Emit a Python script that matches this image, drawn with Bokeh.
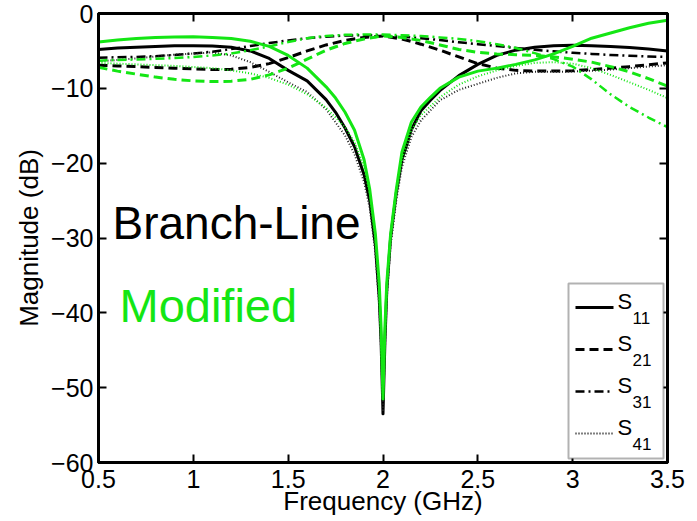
from bokeh.plotting import figure
from bokeh.models import (Range1d, LinearAxis, FixedTicker, CustomJSTickFormatter,
                          Label, BoxAnnotation)
from bokeh.embed import file_html
from bokeh.resources import INLINE

# ---------------- data ----------------
x_ticks = [0.5, 1.0, 1.5, 2.0, 2.5, 3.0, 3.5]
x_tick_labels = ["0.5", "1", "1.5", "2", "2.5", "3", "3.5"]
y_ticks = [-60, -50, -40, -30, -20, -10, 0]
y_tick_labels = ["\u221260", "\u221250", "\u221240", "\u221230", "\u221220", "\u221210", "0"]

# Branch-Line coupler (black)
bl_s11_f = [0.5, 0.6, 0.7, 0.8, 0.9, 1.0, 1.1, 1.2, 1.3, 1.4, 1.5, 1.6, 1.7, 1.75, 1.8, 1.85,
            1.9, 1.93, 1.96, 1.98, 1.99, 2.0, 2.01, 2.02, 2.04, 2.07, 2.1, 2.15, 2.2, 2.25,
            2.3, 2.4, 2.5, 2.6, 2.7, 2.8, 2.9, 3.0, 3.1, 3.2, 3.3, 3.4, 3.5]
bl_s11_db = [-4.8, -4.6, -4.5, -4.4, -4.3, -4.3, -4.35, -4.5, -5.0, -6.0, -7.6, -9.0, -11.5, -13.2,
             -15.3, -17.8, -21.5, -25.0, -31.0, -38.0, -44.0, -53.5, -44.0, -37.0, -30.0, -24.0,
             -19.5, -15.5, -13.0, -11.6, -10.3, -8.3, -6.8, -5.6, -4.9, -4.5, -4.3, -4.25, -4.3,
             -4.4, -4.55, -4.75, -5.0]

bl_s21_f = [0.5, 0.6, 0.7, 0.8, 0.9, 1.0, 1.1, 1.2, 1.3, 1.4, 1.5, 1.6, 1.7, 1.8, 1.9, 2.0,
            2.1, 2.2, 2.3, 2.4, 2.5, 2.6, 2.7, 2.8, 2.9, 3.0, 3.1, 3.2, 3.3, 3.4, 3.5]
bl_s21_db = [-6.9, -7.0, -7.1, -7.2, -7.3, -7.4, -7.5, -7.45, -7.2, -6.7, -5.9, -5.0, -4.2, -3.6,
             -3.2, -3.0, -3.4, -4.1, -4.9, -5.8, -6.7, -7.3, -7.6, -7.7, -7.7, -7.65, -7.5, -7.3,
             -7.1, -6.85, -6.6]

bl_s31_f = [0.5, 0.6, 0.7, 0.8, 0.9, 1.0, 1.1, 1.2, 1.3, 1.4, 1.5, 1.6, 1.7, 1.8, 1.9, 2.0,
            2.1, 2.2, 2.3, 2.4, 2.5, 2.6, 2.7, 2.8, 2.9, 3.0, 3.1, 3.2, 3.3, 3.4, 3.5]
bl_s31_db = [-5.9, -5.85, -5.8, -5.7, -5.55, -5.35, -5.1, -4.75, -4.35, -3.95, -3.6, -3.3, -3.1,
             -2.95, -2.9, -2.95, -3.1, -3.3, -3.55, -3.85, -4.1, -4.35, -4.6, -4.85, -5.05, -5.25,
             -5.4, -5.55, -5.65, -5.75, -5.8]

bl_s41_f = [0.5, 0.7, 0.9, 1.1, 1.2, 1.3, 1.4, 1.5, 1.6, 1.7, 1.8, 1.85, 1.9, 1.93, 1.96, 1.98,
            1.99, 2.0, 2.01, 2.02, 2.04, 2.07, 2.1, 2.15, 2.2, 2.3, 2.4, 2.5, 2.6, 2.7, 2.8, 2.9,
            3.0, 3.1, 3.2, 3.3, 3.4, 3.5]
bl_s41_db = [-6.4, -6.0, -5.5, -5.2, -5.6, -6.5, -7.8, -9.2, -10.5, -12.8, -16.3, -18.8, -22.5,
             -26.0, -32.0, -39.0, -45.0, -53.0, -45.0, -38.0, -31.0, -25.0, -20.5, -16.5, -14.3,
             -11.6, -10.2, -9.4, -8.6, -8.0, -7.8, -7.8, -7.75, -7.65, -7.5, -7.3, -7.1, -6.9]

# Modified coupler (green)
md_s11_f = [0.5, 0.6, 0.7, 0.8, 0.9, 1.0, 1.1, 1.2, 1.3, 1.4, 1.5, 1.6, 1.7, 1.75, 1.8, 1.85,
            1.9, 1.93, 1.96, 1.98, 1.99, 2.0, 2.01, 2.02, 2.04, 2.07, 2.1, 2.15, 2.2, 2.25,
            2.3, 2.4, 2.5, 2.6, 2.7, 2.8, 2.9, 3.0, 3.1, 3.2, 3.3, 3.4, 3.5]
md_s11_db = [-3.8, -3.55, -3.35, -3.2, -3.15, -3.1, -3.2, -3.35, -3.7, -4.4, -5.6, -7.3, -9.8,
             -11.3, -13.2, -15.6, -19.5, -23.5, -29.5, -36.0, -42.0, -51.5, -42.0, -36.0, -29.5,
             -23.5, -18.5, -14.5, -12.5, -11.2, -10.0, -8.5, -7.7, -7.3, -6.8, -6.2, -5.4, -4.4,
             -3.3, -2.6, -1.9, -1.3, -0.9]

md_s21_f = [0.5, 0.6, 0.7, 0.8, 0.9, 1.0, 1.1, 1.2, 1.3, 1.4, 1.5, 1.6, 1.7, 1.8, 1.9, 2.0,
            2.1, 2.2, 2.3, 2.4, 2.5, 2.6, 2.7, 2.8, 2.9, 3.0, 3.1, 3.2, 3.3, 3.4, 3.5]
md_s21_db = [-7.2, -7.7, -8.1, -8.5, -8.8, -9.0, -9.1, -9.05, -8.8, -8.2, -7.3, -6.1, -4.9, -4.0,
             -3.4, -3.0, -3.2, -3.6, -4.2, -4.8, -5.2, -5.4, -5.5, -5.6, -5.8, -6.1, -6.5, -7.1,
             -7.8, -8.7, -9.7]

md_s31_f = [0.5, 0.6, 0.7, 0.8, 0.9, 1.0, 1.1, 1.2, 1.3, 1.4, 1.5, 1.6, 1.7, 1.8, 1.9, 2.0,
            2.1, 2.2, 2.3, 2.4, 2.5, 2.6, 2.7, 2.8, 2.9, 3.0, 3.1, 3.2, 3.3, 3.4, 3.5]
md_s31_db = [-6.3, -6.2, -6.15, -6.05, -5.95, -5.8, -5.6, -5.35, -4.9, -4.4, -3.8, -3.3, -3.0,
             -2.85, -2.8, -2.8, -2.9, -3.0, -3.2, -3.4, -3.7, -4.1, -4.6, -5.3, -6.1, -7.1, -8.8,
             -10.8, -12.5, -13.9, -15.2]

md_s41_f = [0.5, 0.7, 0.9, 1.1, 1.2, 1.3, 1.4, 1.5, 1.6, 1.7, 1.8, 1.85, 1.9, 1.93, 1.96, 1.98,
            1.99, 2.0, 2.01, 2.02, 2.04, 2.07, 2.1, 2.15, 2.2, 2.3, 2.4, 2.5, 2.6, 2.7, 2.8, 2.9,
            3.0, 3.1, 3.2, 3.3, 3.4, 3.5]
md_s41_db = [-6.6, -6.8, -7.0, -7.3, -7.6, -8.0, -8.6, -9.5, -10.8, -12.6, -15.2, -17.2, -20.5,
             -24.0, -30.0, -37.0, -43.0, -51.5, -43.0, -37.0, -30.0, -24.0, -19.5, -15.6, -13.6,
             -11.2, -9.5, -8.4, -7.6, -7.0, -6.6, -6.5, -6.7, -7.3, -8.2, -9.2, -10.2, -11.3]

legend_labels = ["11", "21", "31", "41"]

# ---------------- styling ----------------
GREEN = "#14e614"
BLACK = "#000000"
FONT = "Liberation Sans"
W, H = 697, 521
FL, FR, FT, FB = 98, 667, 13, 462      # frame edges in pixels
XR, YR = (0.5, 3.5), (-60, 0)

styles = {
    "s11": dict(line_dash="solid", line_width=3),
    "s21": dict(line_dash="9 5", line_width=3),
    "s31": dict(line_dash="9 4 2 4", line_width=2.5),
    "s41": dict(line_dash="1 2", line_width=2),
}


def px_x(px):
    return XR[0] + (px - FL) * (XR[1] - XR[0]) / (FR - FL)


def px_y(py):
    return YR[1] - (py - FT) * (YR[1] - YR[0]) / (FB - FT)


p = figure(width=W, height=H, output_backend="svg", toolbar_location=None,
           x_range=Range1d(*XR), y_range=Range1d(*YR),
           min_border_left=FL, min_border_right=W - FR,
           min_border_top=FT, min_border_bottom=H - FB)
p.grid.visible = False
p.background_fill_color = "white"
p.border_fill_color = "white"
p.outline_line_color = "black"
p.outline_line_width = 3

FMT_CODE = ("const i = tvals.findIndex(t => Math.abs(t - tick) < 1e-9); "
            "return i >= 0 ? tlabs[i] : '';")
xfmt = CustomJSTickFormatter(args=dict(tvals=x_ticks, tlabs=x_tick_labels), code=FMT_CODE)
yfmt = CustomJSTickFormatter(args=dict(tvals=y_ticks, tlabs=y_tick_labels), code=FMT_CODE)
blank_fmt = CustomJSTickFormatter(code="return '';")


def style_axis(ax, ticks, fmt, label_size="25px"):
    ax.ticker = FixedTicker(ticks=ticks)
    ax.formatter = fmt
    ax.axis_line_width = 3
    ax.axis_line_color = "black"
    ax.major_tick_in = 8
    ax.major_tick_out = 0
    ax.major_tick_line_width = 2
    ax.minor_tick_line_color = None
    ax.major_label_text_font = FONT
    ax.major_label_text_color = "black"
    ax.major_label_text_font_size = label_size


style_axis(p.xaxis[0], x_ticks, xfmt)
style_axis(p.yaxis[0], y_ticks, yfmt)
p.xaxis[0].major_label_standoff = 7
p.yaxis[0].major_label_standoff = 5
p.xaxis[0].axis_label = "Frequency (GHz)"
p.yaxis[0].axis_label = "Magnitude (dB)"
for ax in (p.xaxis[0], p.yaxis[0]):
    ax.axis_label_text_font = FONT
    ax.axis_label_text_font_size = "26px"
    ax.axis_label_text_font_style = "normal"
    ax.axis_label_text_color = "black"
p.xaxis[0].axis_label_standoff = -5
p.yaxis[0].axis_label_standoff = 4

top_ax = LinearAxis()
style_axis(top_ax, x_ticks, blank_fmt, label_size="8px")
top_ax.major_label_standoff = 0
p.add_layout(top_ax, "above")
right_ax = LinearAxis()
style_axis(right_ax, y_ticks, blank_fmt, label_size="8px")
right_ax.major_label_standoff = 0
p.add_layout(right_ax, "right")

# ---------------- curves ----------------
series = [
    (bl_s11_f, bl_s11_db, BLACK, "s11"), (bl_s21_f, bl_s21_db, BLACK, "s21"),
    (bl_s31_f, bl_s31_db, BLACK, "s31"), (bl_s41_f, bl_s41_db, BLACK, "s41"),
    (md_s21_f, md_s21_db, GREEN, "s21"), (md_s31_f, md_s31_db, GREEN, "s31"),
    (md_s41_f, md_s41_db, GREEN, "s41"), (md_s11_f, md_s11_db, GREEN, "s11"),
]
for f, db, col, key in series:
    st = dict(styles[key])
    st["line_color"] = "#222222" if (key == "s41" and col == BLACK) else col
    p.line(f, db, line_join="round", **st)

# ---------------- annotations ----------------
p.add_layout(Label(x=px_x(112), y=px_y(222), text="Branch-Line", text_font=FONT,
                   text_font_size="46px", text_color="black", text_baseline="middle"))
p.add_layout(Label(x=px_x(119), y=px_y(305), text="Modified", text_font=FONT,
                   text_font_size="47px", text_color=GREEN, text_baseline="middle"))

# ---------------- legend ----------------
p.add_layout(BoxAnnotation(left=px_x(568), right=px_x(663), top=px_y(283), bottom=px_y(458),
                           fill_color="white", fill_alpha=1.0, line_color="black", line_width=2))
row_y = [307, 349, 391, 433]
for key, lab, ry in zip(["s11", "s21", "s31", "s41"], legend_labels, row_y):
    st = dict(styles[key])
    p.line([px_x(575), px_x(613)], [px_y(ry), px_y(ry)], line_color="black", level="overlay", **st)
    p.add_layout(Label(x=px_x(617), y=px_y(ry - 6), text="S", text_font=FONT, text_font_size="22px",
                       text_color="black", text_baseline="middle", level="overlay"))
    p.add_layout(Label(x=px_x(632), y=px_y(ry + 10), text=lab, text_font=FONT, text_font_size="17px",
                       text_color="black", text_baseline="middle", level="overlay"))

open("out.html", "w").write(file_html(p, INLINE))
